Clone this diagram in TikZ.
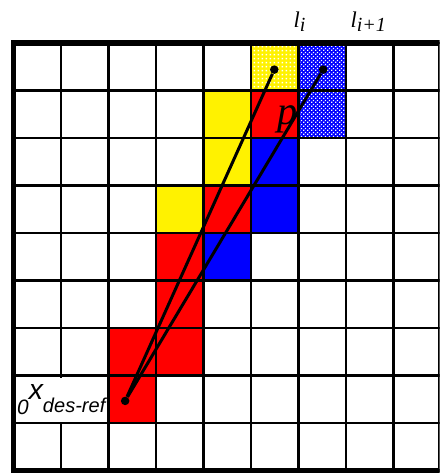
\documentclass[tikz,border=0pt]{standalone}
\usepackage{fontspec}
\setmainfont{Liberation Serif}
\newfontfamily\helvfont{Liberation Sans}
\usetikzlibrary{patterns.meta}

\tikzdeclarepattern{
  name=finechecks, type=uncolored,
  bounding box={(0,0) and (2.6pt,2.6pt)},
  tile size={(2.6pt,2.6pt)},
  code={\fill (0,0) rectangle (0.9pt,0.9pt); \fill (1.3pt,1.3pt) rectangle (2.2pt,2.2pt);}
}
\tikzdeclarepattern{
  name=finedots, type=uncolored,
  bounding box={(0,0) and (2.2pt,2.2pt)},
  tile size={(2.2pt,2.2pt)},
  code={\fill (0.4pt,0.4pt) rectangle (1.4pt,1.4pt);}
}

\begin{document}
\begin{tikzpicture}[
  x=1cm, y=1cm,
  every node/.style={inner sep=0pt},
  gridline/.style={line width=1.5pt, draw=black},
  frame/.style={line width=3.4pt, draw=black},
  ray/.style={line width=1.8pt, draw=black},
  dot/.style={circle, fill=black, minimum size=0.18cm}
]
  \useasboundingbox (-0.285,-0.053) rectangle (8.97,9.906);
  \clip (-0.285,-0.053) rectangle (8.97,9.906);
  % ----- plain coloured cells -----
  \foreach \cx/\cy/\cc in {4/7/yellow, 5/7/red, 4/6/yellow, 5/6/blue,
      3/5/yellow, 4/5/red, 5/5/blue, 3/4/red, 4/4/blue, 3/3/red,
      2/2/red, 3/2/red, 2/1/red}
    \fill[\cc] (\cx,\cy) rectangle ++(1,1);
  % ----- hatched cells (top row) -----
  \fill[yellow] (5,8) rectangle ++(1,1);
  \fill[pattern=finedots, pattern color=white] (5,8) rectangle ++(1,1);
  \fill[blue] (6,7) rectangle ++(1,2);
  \fill[pattern=finechecks, pattern color=white] (6,7) rectangle ++(1,2);
  % ----- grid and frame -----
  \draw[gridline] (0,0) grid (9,9);
  \draw[frame] (0,0) rectangle (9,9);
  % ----- start label -----
  \node[fill=white, minimum width=1.92cm, minimum height=0.93cm] (xref) at (1.01,1.485) {};
  \node[anchor=base west] (xreflbl) at (0.07,1.49)
    {\helvfont\itshape\fontsize{12.5}{14}\selectfont\raisebox{-8.6pt}{0}%
     \fontsize{17}{19}\selectfont x%
     \fontsize{12}{14}\selectfont\raisebox{-7.4pt}{des-ref}};
  % ----- rays -----
  \node[dot] (src) at (2.35,1.465) {};
  \node[dot] (li) at (5.49,8.44) {};
  \node[dot] (lnext) at (6.52,8.44) {};
  \draw[ray] (src) -- (li);
  \draw[ray] (src) -- (lnext);
  % ----- labels -----
  \node[anchor=base west] (plbl) at (5.55,7.28) {\fontsize{24}{26}\selectfont\itshape p};
  \node[anchor=base west] (lilbl) at (5.89,9.33)
    {\itshape\fontsize{13.5}{15}\selectfont l\fontsize{12}{14}\selectfont\raisebox{-2.4pt}{i}};
  \node[anchor=base west] (lnextlbl) at (7.09,9.33)
    {\itshape\fontsize{13.5}{15}\selectfont l\fontsize{12}{14}\selectfont\raisebox{-2.4pt}{i+1}};
\end{tikzpicture}
\end{document}
